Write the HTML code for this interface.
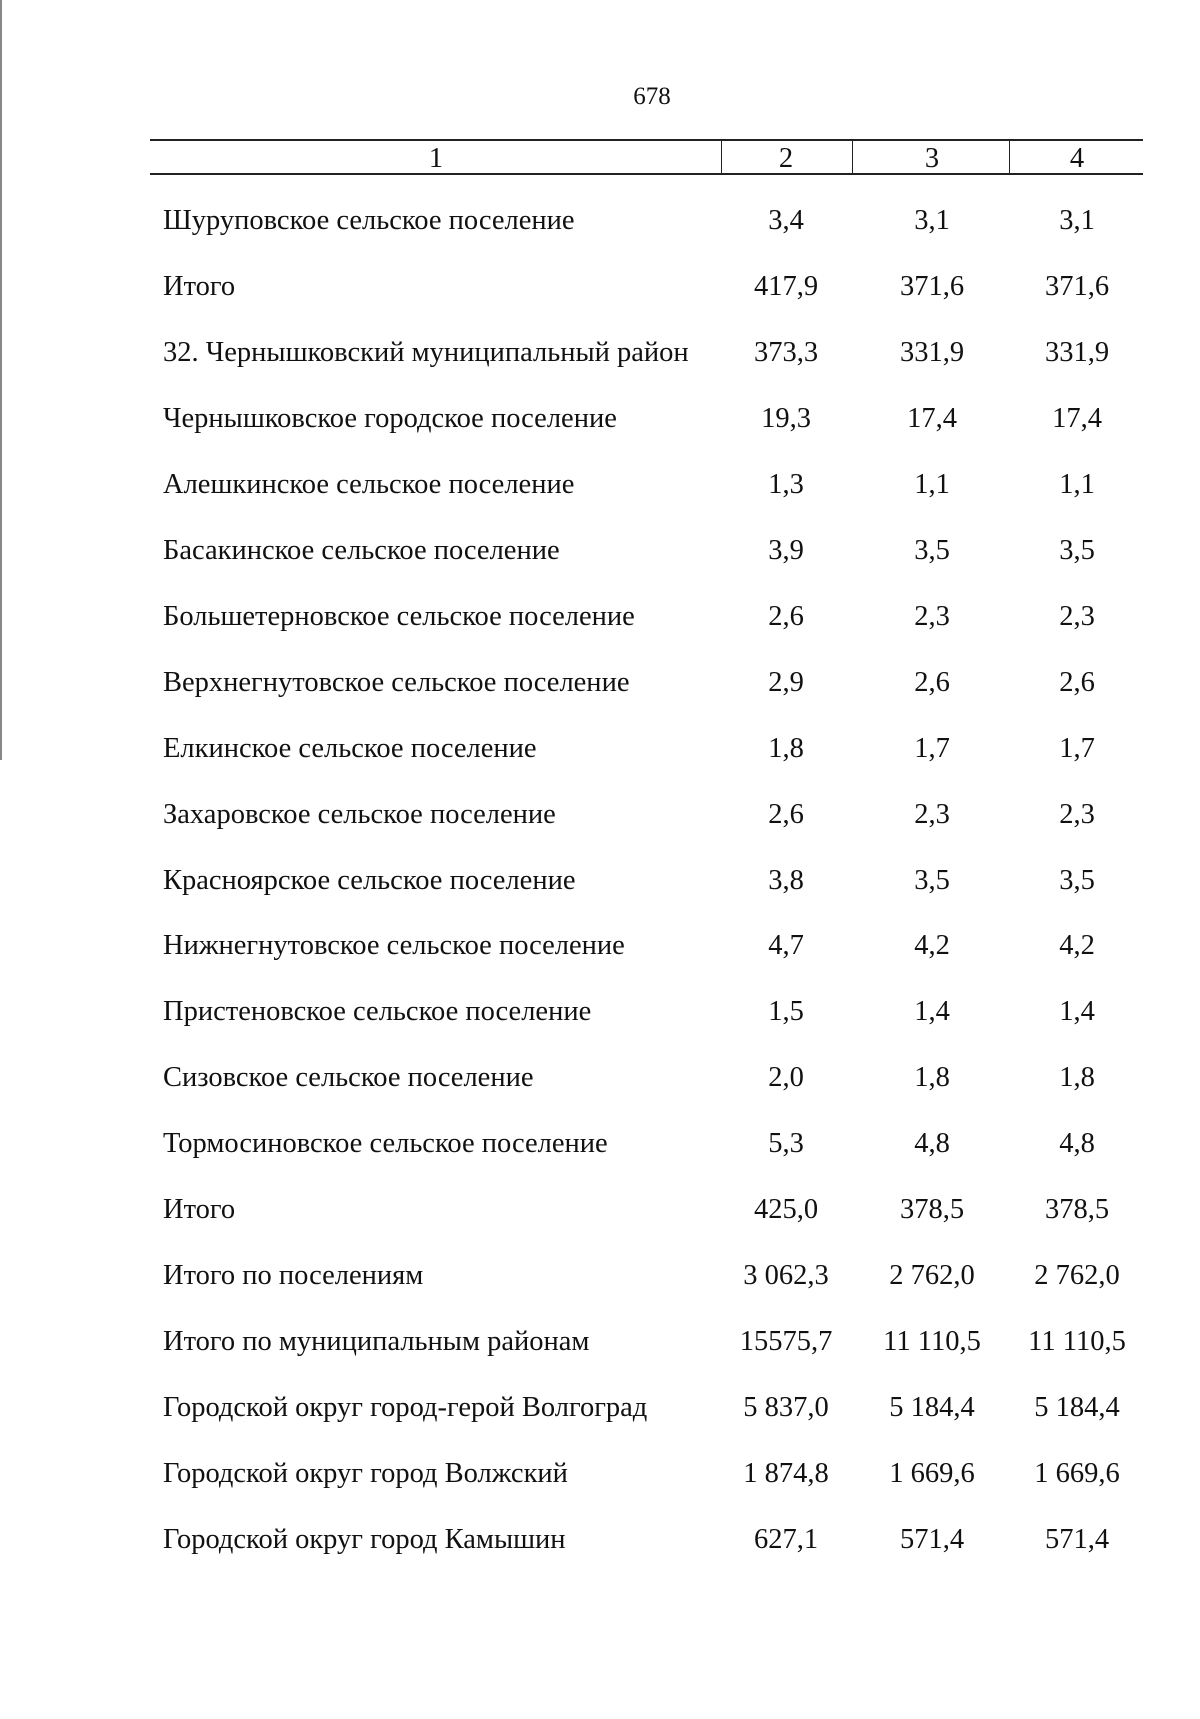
<!DOCTYPE html>
<html><head><meta charset="utf-8"><style>
body{margin:0;width:1200px;height:1719px;background:#fff;position:relative;font-family:"Liberation Serif","DejaVu Serif",serif;color:#111;overflow:hidden}
.t{position:absolute;font-size:28.5px;line-height:30px;white-space:nowrap}
.c{transform:translateX(-50%)}
.h{position:absolute;background:#222}
</style></head><body>
<div class="t c" style="left:652px;top:82px;font-size:25px">678</div>
<div class="h" style="left:150px;top:139px;width:993px;height:2px"></div>
<div class="h" style="left:150px;top:173px;width:993px;height:2px"></div>
<div class="h" style="left:721px;top:140px;width:1px;height:34px"></div>
<div class="h" style="left:852px;top:140px;width:1px;height:34px"></div>
<div class="h" style="left:1009px;top:140px;width:1px;height:34px"></div>
<div class="h" style="left:0;top:0;width:2px;height:760px;background:#888"></div>
<div class="t c" style="left:436px;top:144px">1</div>
<div class="t c" style="left:786px;top:144px">2</div>
<div class="t c" style="left:932px;top:144px">3</div>
<div class="t c" style="left:1077px;top:144px">4</div>
<div id="rows"></div>
<script>
var d=[["Шуруповское сельское поселение","3,4","3,1","3,1"],["Итого","417,9","371,6","371,6"],["32. Чернышковский муниципальный район","373,3","331,9","331,9"],["Чернышковское городское поселение","19,3","17,4","17,4"],["Алешкинское сельское поселение","1,3","1,1","1,1"],["Басакинское сельское поселение","3,9","3,5","3,5"],["Большетерновское сельское поселение","2,6","2,3","2,3"],["Верхнегнутовское сельское поселение","2,9","2,6","2,6"],["Елкинское сельское поселение","1,8","1,7","1,7"],["Захаровское сельское поселение","2,6","2,3","2,3"],["Красноярское сельское поселение","3,8","3,5","3,5"],["Нижнегнутовское сельское поселение","4,7","4,2","4,2"],["Пристеновское сельское поселение","1,5","1,4","1,4"],["Сизовское сельское поселение","2,0","1,8","1,8"],["Тормосиновское сельское поселение","5,3","4,8","4,8"],["Итого","425,0","378,5","378,5"],["Итого по поселениям","3 062,3","2 762,0","2 762,0"],["Итого по муниципальным районам","15575,7","11 110,5","11 110,5"],["Городской округ город-герой Волгоград","5 837,0","5 184,4","5 184,4"],["Городской округ город Волжский","1 874,8","1 669,6","1 669,6"],["Городской округ город Камышин","627,1","571,4","571,4"]];
var h="";d.forEach(function(r,i){var y=206+i*65.95;
h+='<div class="t" style="left:163px;top:'+y+'px">'+r[0]+'</div>';
[786,932,1077].forEach(function(x,j){h+='<div class="t c" style="left:'+x+'px;top:'+y+'px">'+r[j+1]+'</div>';});});
document.getElementById("rows").innerHTML=h;
</script>
</body></html>
